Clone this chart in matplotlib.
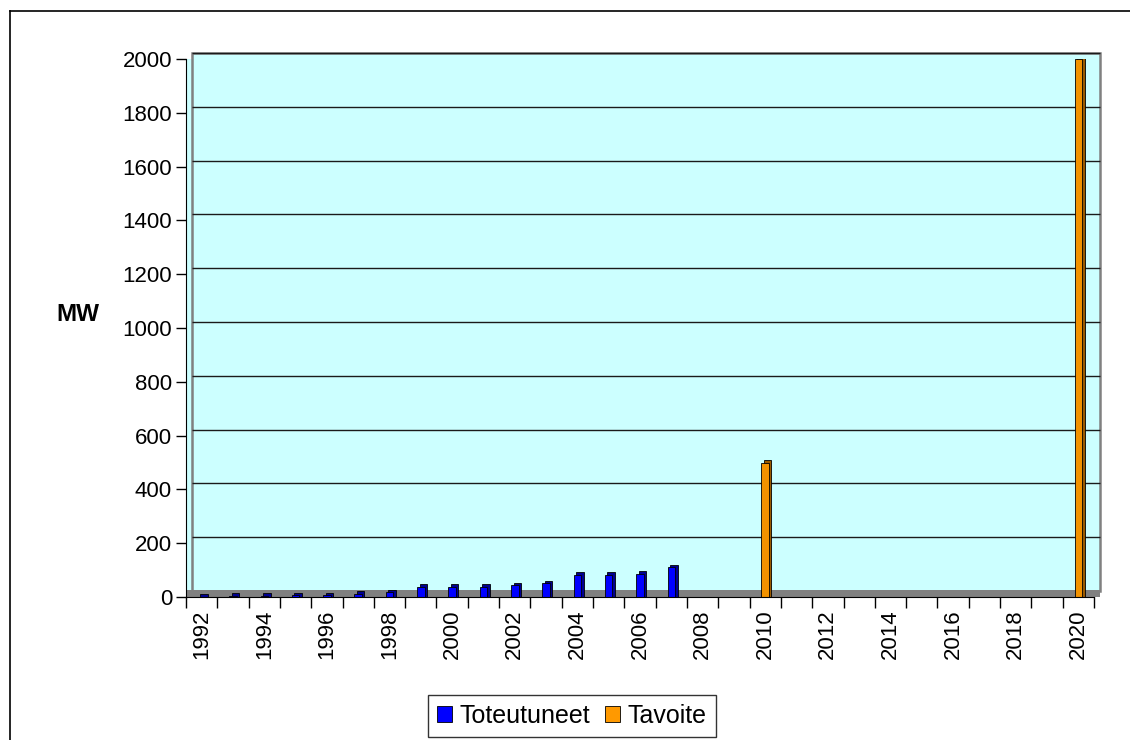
import matplotlib
matplotlib.use("Agg")
import matplotlib.pyplot as plt
import matplotlib.transforms as mtransforms
from matplotlib.patches import Rectangle
from matplotlib.lines import Line2D
import numpy as np

years = list(range(1992, 2021))
toteutuneet = {1992: 1, 1993: 5, 1994: 5, 1995: 7, 1996: 7, 1997: 12, 1998: 17,
               1999: 38, 2000: 39, 2001: 39, 2002: 43, 2003: 52, 2004: 82,
               2005: 82, 2006: 86, 2007: 110}
tavoite = {2010: 500, 2020: 2000}
yticks = [0, 200, 400, 600, 800, 1000, 1200, 1400, 1600, 1800, 2000]
series_labels = ["Toteutuneet", "Tavoite"]

plt.rcParams['font.family'] = ['Liberation Sans', 'DejaVu Sans']

W, H = 1130, 740
fig = plt.figure(figsize=(W / 100, H / 100), dpi=100)
fig.patch.set_facecolor('white')

# outer frame (right/bottom edges fall outside the image)
fig.add_artist(Line2D([10 / W, 1.0], [1 - 11 / H, 1 - 11 / H], color='black', lw=1.2, transform=fig.transFigure))
fig.add_artist(Line2D([10 / W, 10 / W], [0, 1 - 11 / H], color='black', lw=1.2, transform=fig.transFigure))

left, right, top, bottom = 186, 1094, 59, 597
ax = fig.add_axes([left / W, 1 - bottom / H, (right - left) / W, (bottom - top) / H])
ax.set_facecolor('#CCFFFF')
ax.set_xlim(-0.5, len(years) - 0.5)
ax.set_ylim(0, 2000)

depth = mtransforms.ScaledTranslation(6 / 100, 6 / 100, fig.dpi_scale_trans)

# back wall
wall = Rectangle((0, 0), 1, 1, transform=ax.transAxes + depth, facecolor='#CCFFFF',
                 edgecolor='#808080', lw=1.8, zorder=0.5, clip_on=False)
ax.add_patch(wall)
# gridlines on back wall
ax.hlines(yticks[1:], -0.5, len(years) - 0.5, colors='#1a1a1a', lw=1.0,
          transform=ax.transData + depth, zorder=0.8, clip_on=False)
# floor
floor_h = 7 / (bottom - top)
floor = Rectangle((0, 0), 1, floor_h, transform=ax.transAxes,
                  facecolor='#808080', edgecolor='none', zorder=0.9, clip_on=False)
ax.add_patch(floor)
floor_r = Rectangle((0, 0), 1, floor_h,
                    transform=ax.transAxes + mtransforms.ScaledTranslation(6 / 100, 0, fig.dpi_scale_trans),
                    facecolor='#808080', edgecolor='none', zorder=0.85, clip_on=False)
ax.add_patch(floor_r)

x = np.arange(len(years))
t_vals = [toteutuneet.get(y, 0) for y in years]
g_vals = [tavoite.get(y, 0) for y in years]
bw = 0.24
off_px = 2.5
side = mtransforms.ScaledTranslation(off_px / 100, off_px / 100, fig.dpi_scale_trans)
cap_units = off_px * 2000 / (bottom - top)

for vals, face, dark in [(t_vals, '#0000FF', '#000090'), (g_vals, '#F29200', '#9A5A00')]:
    xs = [xi for xi, v in zip(x, vals) if v > 0]
    vs = [v for v in vals if v > 0]
    ax.bar(xs, [v + cap_units for v in vs], width=bw, bottom=-cap_units, color=dark,
           edgecolor='black', lw=0.6, transform=ax.transData + side, zorder=2)
    ax.bar(xs, vs, width=bw, color=face, edgecolor='black', lw=0.6, zorder=3)

# spines
for s in ['top', 'right']:
    ax.spines[s].set_visible(False)
ax.spines['left'].set_color('black')
ax.spines['bottom'].set_color('black')
ax.spines['left'].set_zorder(4)
ax.spines['bottom'].set_zorder(4)

ax.set_yticks(yticks)
ax.set_yticklabels([str(v) for v in yticks], fontsize=16)
ax.tick_params(axis='y', direction='out', length=7, width=1, pad=3)

ax.set_xticks(x[::2])
ax.set_xticklabels([str(y) for y in years[::2]], rotation=90, fontsize=16)
ax.set_xticks(np.arange(-0.5, len(years)), minor=True)
ax.tick_params(axis='x', which='major', length=0, pad=9)
ax.tick_params(axis='x', which='minor', direction='out', length=8, width=1)

ax.set_ylabel('MW', rotation=0, fontsize=17.5, fontweight='bold')
ax.yaxis.set_label_coords(-0.119, 0.504)

handles = [Rectangle((0, 0), 1, 1, facecolor='#0000FF', edgecolor='black', lw=0.6),
           Rectangle((0, 0), 1, 1, facecolor='#FF9900', edgecolor='black', lw=0.6)]
leg = fig.legend(handles, series_labels, loc='center', bbox_to_anchor=(572 / W, 1 - 716 / H),
                 ncol=2, fontsize=18, frameon=True, fancybox=False, edgecolor='black',
                 handlelength=0.6, handleheight=0.6, handletextpad=0.3, columnspacing=0.6,
                 borderpad=0.35, borderaxespad=0)
leg.get_frame().set_linewidth(1.0)

fig.savefig('out.png', dpi=100)
